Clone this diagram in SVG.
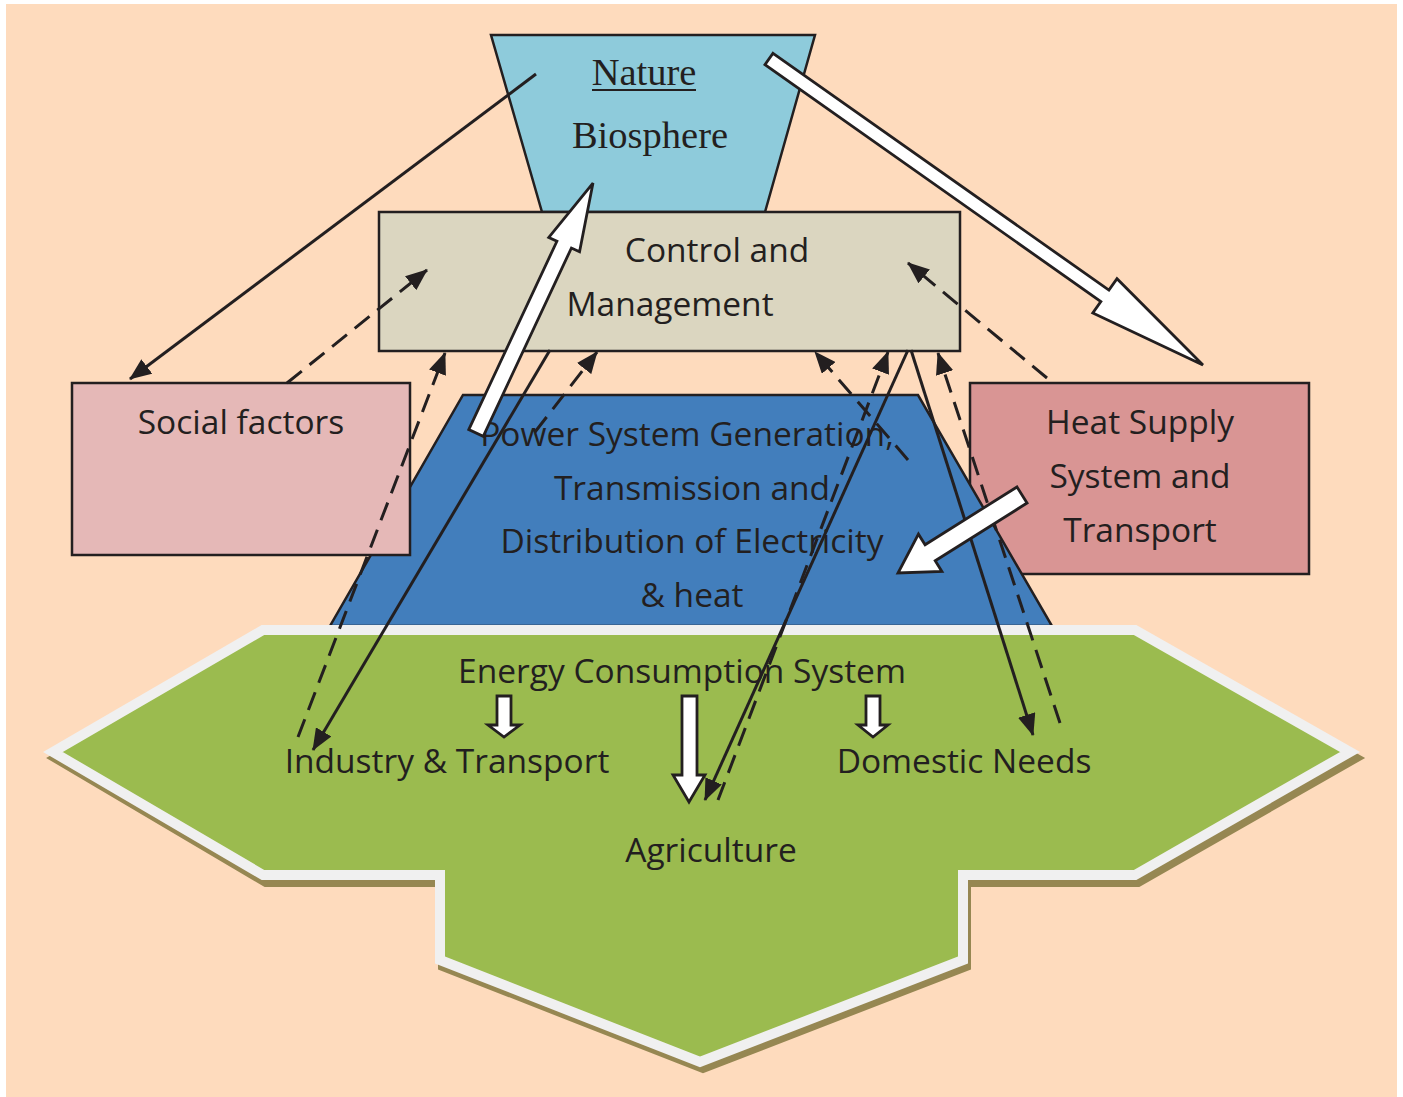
<svg xmlns="http://www.w3.org/2000/svg" width="1403" height="1097" viewBox="0 0 1403 1097">
  <style>
    .edge { stroke: #231F20; stroke-width: 2.5; }
    .lbl { font-family: "Open Sans", "Noto Sans", "Liberation Sans", sans-serif; font-size: 33.5px; fill: #231F20; text-anchor: middle; }
    .serif { font-family: "Liberation Serif", "Times New Roman", serif; font-size: 38.5px; fill: #231F20; text-anchor: middle; }
    .solid { fill: none; stroke: #231F20; stroke-width: 3; marker-end: url(#head); }
    .dash { fill: none; stroke: #231F20; stroke-width: 3; stroke-dasharray: 19 10; marker-end: url(#head); }
    .block { fill: #FFFFFF; stroke: #231F20; stroke-width: 2.8; stroke-linejoin: miter; }
  </style>
  <defs>
    <marker id="head" viewBox="0 0 22 18" refX="21" refY="9" markerWidth="22" markerHeight="18" markerUnits="userSpaceOnUse" orient="auto">
      <path d="M0,0 L22,9 L0,18 Z" fill="#231F20"/>
    </marker>
  </defs>

  <!-- page background -->
  <rect x="6" y="4" width="1391" height="1093" fill="#FEDBBD"/>

  <!-- Nature / Biosphere -->
  <g id="nature">
    <polygon points="491,35 815,35 765,212 542,212" fill="#8ECBDB" class="edge"/>
    <text x="644" y="85" class="serif">Nature</text>
    <line x1="592" y1="90" x2="696" y2="90" stroke="#231F20" stroke-width="2"/>
    <text x="650" y="148" class="serif">Biosphere</text>
  </g>

  <!-- Control and Management -->
  <g id="control">
    <rect x="379" y="212" width="581" height="139" fill="#DBD6C0" class="edge"/>
    <text x="717" y="262" class="lbl">Control and</text>
    <text x="670" y="316" class="lbl">Management</text>
  </g>

  <!-- Heat Supply System and Transport -->
  <g id="heat">
    <rect x="970" y="383" width="339" height="191" fill="#D99594" class="edge"/>
    <text x="1140" y="434" class="lbl">Heat Supply</text>
    <text x="1140" y="488" class="lbl">System and</text>
    <text x="1140" y="542" class="lbl">Transport</text>
  </g>

  <!-- Power system -->
  <g id="power">
    <polygon points="463,395 918,395 1052,626 330,626" fill="#427EBC" class="edge"/>
    <text x="687" y="446" class="lbl">Power System Generation,</text>
    <text x="692" y="500" class="lbl">Transmission and</text>
    <text x="692" y="553" class="lbl">Distribution of Electricity</text>
    <text x="692" y="607" class="lbl">&amp; heat</text>
  </g>

  <!-- Social factors -->
  <g id="social">
    <rect x="72" y="383" width="338" height="172" fill="#E5B8B7" class="edge"/>
    <text x="241" y="434" class="lbl">Social factors</text>
  </g>

  <!-- Energy consumption system -->
  <g id="consumption">
    <polygon points="266,636 1138,636 1355,758 1138,882 966,882 966,966 703,1068 443,966 443,882 266,882 56,758" fill="#968752" stroke="#968752" stroke-width="10" stroke-linejoin="miter"/>
    <polygon points="263,630 1135,630 1350,752 1135,875 963,875 963,960 700,1062 440,960 440,875 263,875 53,752" fill="#9BBB4F" stroke="#F0F0F0" stroke-width="10" stroke-linejoin="miter"/>
    <text x="682" y="683" class="lbl">Energy Consumption System</text>
    <text x="447" y="773" class="lbl">Industry &amp; Transport</text>
    <text x="964" y="773" class="lbl">Domestic Needs</text>
    <text x="711" y="862" class="lbl">Agriculture</text>
  </g>

  <!-- connectors -->
  <g id="connectors">
    <!-- solid flows -->
    <line x1="536" y1="74" x2="130" y2="379" class="solid"/>
    <line x1="550" y1="350" x2="313" y2="750" class="solid"/>
    <line x1="908" y1="350" x2="705" y2="800" class="solid"/>
    <line x1="911" y1="350" x2="1033" y2="735" class="solid"/>

    <!-- dashed feedback -->
    <line x1="287" y1="383" x2="427" y2="270" class="dash"/>
    <line x1="298" y1="737" x2="445" y2="353" class="dash"/>
    <line x1="535" y1="432" x2="597" y2="352" class="dash"/>
    <line x1="908" y1="460" x2="815" y2="352" class="dash"/>
    <line x1="718" y1="800" x2="888" y2="352" class="dash"/>
    <line x1="1060" y1="723" x2="938" y2="353" class="dash"/>
    <line x1="1047" y1="378" x2="908" y2="263" class="dash"/>

    <!-- broad white arrows -->
    <path class="block" transform="translate(769,59) rotate(35.19)" d="M0,-7 L411,-7 L411,-21 L531,0 L411,21 L411,7 L0,7 Z"/>
    <path class="block" transform="translate(476,433) rotate(-64.92)" d="M0,-8 L208,-8 L208,-17 L276,0 L208,17 L208,8 L0,8 Z"/>
    <path class="block" transform="translate(1022,495) rotate(147.83)" d="M0,-9.5 L108.5,-9.5 L108.5,-22 L146.5,0 L108.5,22 L108.5,9.5 L0,9.5 Z"/>

    <!-- small down arrows inside consumption -->
    <path class="block" d="M497,696 H511 V725 H520 L504,737 L488,725 H497 Z"/>
    <path class="block" d="M682,696 H697 V775 H705 L689,802 L673,775 H682 Z"/>
    <path class="block" d="M866,696 H880 V725 H888 L873,737 L858,725 H866 Z"/>
  </g>
</svg>
